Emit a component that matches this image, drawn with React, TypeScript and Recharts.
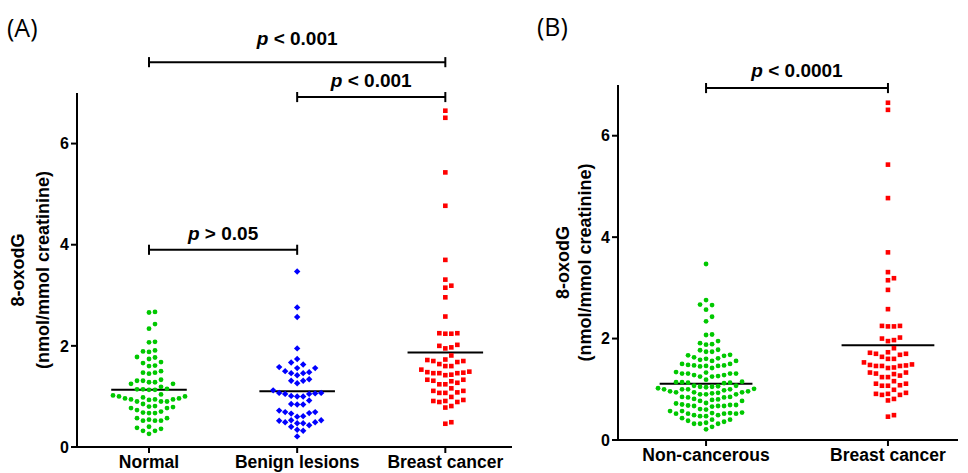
import React from 'react'
import { ScatterChart, Scatter, XAxis, YAxis, ReferenceLine } from 'recharts'

// categories
const groupsA = ['Normal', 'Benign lesions', 'Breast cancer']
const groupsB = ['Non-cancerous', 'Breast cancer']

// 8-oxodG values (nmol/mmol creatinine)
const normal = [
  2.67, 2.66, 2.43, 2.34, 2.08, 2.07, 1.91, 1.89, 1.88, 1.78, 1.77, 1.74,
  1.68, 1.66, 1.61, 1.6, 1.5, 1.47, 1.47, 1.45, 1.33, 1.31, 1.31, 1.28,
  1.28, 1.25, 1.25, 1.19, 1.15, 1.14, 1.14, 1.13, 1.13, 1.04, 1.02, 1.0,
  1.0, 0.98, 0.96, 0.96, 0.94, 0.94, 0.94, 0.93, 0.9, 0.9, 0.9, 0.85,
  0.81, 0.8, 0.79, 0.77, 0.77, 0.73, 0.7, 0.68, 0.67, 0.67, 0.57, 0.57,
  0.54, 0.52, 0.52, 0.52, 0.4, 0.38, 0.36, 0.32, 0.32, 0.26,
]
const benign = [
  3.47, 2.76, 2.57, 1.95, 1.74, 1.67, 1.63, 1.56, 1.56, 1.58, 1.48, 1.46,
  1.46, 1.5, 1.42, 1.34, 1.31, 1.31, 1.26, 1.12, 1.07, 1.06, 1.05, 1.05,
  1.07, 1.0, 1.0, 1.01, 0.92, 0.85, 0.84, 0.84, 0.72, 0.69, 0.67, 0.66,
  0.69, 0.61, 0.6, 0.53, 0.53, 0.52, 0.49, 0.47, 0.47, 0.49, 0.43, 0.4,
  0.32, 0.34, 0.21,
]
const breastCancer = [
  6.65, 6.51, 5.43, 4.77, 3.7, 3.31, 3.15, 3.19, 2.96, 2.58, 2.25, 2.24,
  2.24, 2.25, 2.0, 1.95, 1.97, 2.02, 1.81, 1.72, 1.7, 1.73, 1.64, 1.68,
  1.7, 1.6, 1.6, 1.49, 1.47, 1.46, 1.43, 1.42, 1.46, 1.46, 1.48, 1.53,
  1.33, 1.31, 1.27, 1.24, 1.24, 1.3, 1.33, 1.16, 1.11, 1.07, 1.07, 1.08,
  1.11, 0.99, 0.89, 0.91, 0.91, 0.89, 0.93, 0.81, 0.78, 0.46, 0.49,
]
const nonCancerous = [...normal, ...benign]

// centre lines
const centreA = [1.13, 1.1, 1.87]
const centreB = [1.11, 1.87]

const yTicks = [0, 2, 4, 6]

// significance brackets
const bracketsA = [
  { from: 0, to: 2, y: 7.61, sign: '< 0.001', gap: 17 },
  { from: 1, to: 2, y: 6.92, sign: '< 0.001', gap: 10 },
  { from: 0, to: 1, y: 3.9, sign: '> 0.05', gap: 10 },
]
const bracketsB = [{ from: 0, to: 1, y: 6.94, sign: '< 0.0001', gap: 11 }]

const FONT = "'Liberation Sans', Arial, sans-serif"
const GREEN = '#00c800'
const BLUE = '#0000ff'
const RED = '#ff0000'

// simple beeswarm: columns 6px apart, sorted by value
function swarm(values: number[], group: number, pxPerY: number, pxPerX: number) {
  const step = 6
  const minGap = 6.5
  const placed: { col: number; py: number }[] = []
  return [...values]
    .sort((a, b) => a - b)
    .map((v) => {
      const py = v * pxPerY
      let k = 0
      let col = 0
      for (;;) {
        col = k === 0 ? 0 : k % 2 === 1 ? (k + 1) / 2 : -k / 2
        const c = col
        if (!placed.some((p) => p.col === c && Math.abs(p.py - py) < minGap)) break
        k++
      }
      placed.push({ col, py })
      return { x: group + (col * step) / pxPerX, y: v }
    })
}

const Dot = (p: any) => <circle cx={p.cx} cy={p.cy} r={2.4} fill={GREEN} />
const Diamond = (p: any) => (
  <path
    d={`M${p.cx},${p.cy - 3.2}L${p.cx + 3.2},${p.cy}L${p.cx},${p.cy + 3.2}L${p.cx - 3.2},${p.cy}Z`}
    fill={BLUE}
  />
)
const Square = (p: any) => (
  <rect x={p.cx - 2.3} y={p.cy - 2.3} width={4.6} height={4.6} fill={RED} />
)

function YTitle(props: any) {
  const vb = props.viewBox || {}
  const axisX = vb.x + vb.width
  const cy = vb.y + vb.height / 2
  const style = { fontFamily: FONT, fontWeight: 700, fontSize: 18, fill: '#000' }
  return (
    <g>
      <text transform={`translate(${axisX - props.d1},${cy}) rotate(-90)`} textAnchor="middle" dominantBaseline="central" {...style}>
        8-oxodG
      </text>
      <text transform={`translate(${axisX - props.d2},${cy}) rotate(-90)`} textAnchor="middle" dominantBaseline="central" {...style}>
        (nmol/mmol creatinine)
      </text>
    </g>
  )
}

function PLabel(props: any) {
  const vb = props.viewBox || {}
  let x = vb.x + (vb.width || 0) / 2
  let y = vb.y
  if (vb.x1 !== undefined) {
    x = (vb.x1 + vb.x2) / 2
    y = Math.min(vb.y1, vb.y2)
  }
  return (
    <text x={x} y={y - props.gap} textAnchor="middle" fontFamily={FONT} fontWeight={700} fontSize={19} fill="#000">
      <tspan fontStyle="italic">p</tspan> {props.sign}
    </text>
  )
}

function bracketLines(list: typeof bracketsA, prefix: string) {
  const out: React.ReactNode[] = []
  list.forEach((b, i) => {
    out.push(
      <ReferenceLine
        key={`${prefix}h${i}`}
        segment={[{ x: b.from, y: b.y }, { x: b.to, y: b.y }]}
        stroke="#000"
        strokeWidth={2}
        ifOverflow="visible"
        label={<PLabel sign={b.sign} gap={b.gap} />}
      />,
    )
    ;[b.from, b.to].forEach((end, j) => {
      out.push(
        <ReferenceLine
          key={`${prefix}c${i}-${j}`}
          segment={[{ x: end, y: b.y - 0.1 }, { x: end, y: b.y + 0.1 }]}
          stroke="#000"
          strokeWidth={2}
          ifOverflow="visible"
        />,
      )
    })
  })
  return out
}

function centreLines(centres: number[], prefix: string) {
  return centres.map((c, i) => (
    <ReferenceLine
      key={`${prefix}m${i}`}
      segment={[{ x: i - 0.255, y: c }, { x: i + 0.255, y: c }]}
      stroke="#000"
      strokeWidth={2}
      ifOverflow="visible"
    />
  ))
}

const axisStroke = { stroke: '#000', strokeWidth: 2 }
const tickStyle = { fill: '#000', fontFamily: FONT, fontWeight: 700 }

export default function App() {
  // panel A plot: x 77..512, y 93..447
  const pxYA = 354 / 7
  const pxXA = 435 / 2.936
  // panel B plot: x 618..960, y 85..440
  const pxYB = 355 / 7
  const pxXB = 342 / 1.88

  const normalPts = swarm(normal, 0, pxYA, pxXA)
  const benignPts = swarm(benign, 1, pxYA, pxXA)
  const cancerPtsA = swarm(breastCancer, 2, pxYA, pxXA)
  const nonCancerPts = swarm(nonCancerous, 0, pxYB, pxXB)
  const cancerPtsB = swarm(breastCancer, 1, pxYB, pxXB)

  const panelTag = { position: 'absolute' as const, fontFamily: "'Open Sans', sans-serif", fontSize: 25, lineHeight: '30px' }

  return (
    <div style={{ position: 'absolute', left: 0, top: 0, width: 968, height: 473, background: '#fff' }}>
      <div style={{ ...panelTag, left: 7, top: 12 }}>(A)</div>
      <div style={{ ...panelTag, left: 537, top: 11 }}>(B)</div>

      <div style={{ position: 'absolute', left: 0, top: 0 }}>
        <ScatterChart width={530} height={473} margin={{ top: 93, right: 18, bottom: 0, left: 0 }}>
          <XAxis
            type="number"
            dataKey="x"
            domain={[-0.486, 2.45]}
            ticks={[0, 1, 2]}
            tickFormatter={(v: number) => groupsA[v] ?? ''}
            allowDataOverflow
            height={26}
            axisLine={axisStroke}
            tickLine={axisStroke}
            tickSize={6}
            tickMargin={3}
            tick={{ ...tickStyle, fontSize: 17.5 }}
            interval={0}
          />
          <YAxis
            type="number"
            dataKey="y"
            domain={[0, 7]}
            ticks={yTicks}
            allowDataOverflow
            width={77}
            axisLine={axisStroke}
            tickLine={axisStroke}
            tickSize={6}
            tick={{ ...tickStyle, fontSize: 16 }}
            label={<YTitle d1={59} d2={34} />}
          />
          <Scatter data={normalPts} shape={Dot} isAnimationActive={false} />
          <Scatter data={benignPts} shape={Diamond} isAnimationActive={false} />
          <Scatter data={cancerPtsA} shape={Square} isAnimationActive={false} />
          {centreLines(centreA, 'a')}
          {bracketLines(bracketsA, 'a')}
        </ScatterChart>
      </div>

      <div style={{ position: 'absolute', left: 530, top: 0 }}>
        <ScatterChart width={438} height={473} margin={{ top: 85, right: 10, bottom: 0, left: 0 }}>
          <XAxis
            type="number"
            dataKey="x"
            domain={[-0.484, 1.385]}
            ticks={[0, 1]}
            tickFormatter={(v: number) => groupsB[v] ?? ''}
            allowDataOverflow
            height={33}
            axisLine={axisStroke}
            tickLine={axisStroke}
            tickSize={6}
            tickMargin={3}
            tick={{ ...tickStyle, fontSize: 17.5 }}
            interval={0}
          />
          <YAxis
            type="number"
            dataKey="y"
            domain={[0, 7]}
            ticks={yTicks}
            allowDataOverflow
            width={88}
            axisLine={axisStroke}
            tickLine={axisStroke}
            tickSize={6}
            tick={{ ...tickStyle, fontSize: 16 }}
            label={<YTitle d1={55} d2={33} />}
          />
          <Scatter data={nonCancerPts} shape={Dot} isAnimationActive={false} />
          <Scatter data={cancerPtsB} shape={Square} isAnimationActive={false} />
          {centreLines(centreB, 'b')}
          {bracketLines(bracketsB, 'b')}
        </ScatterChart>
      </div>
    </div>
  )
}
